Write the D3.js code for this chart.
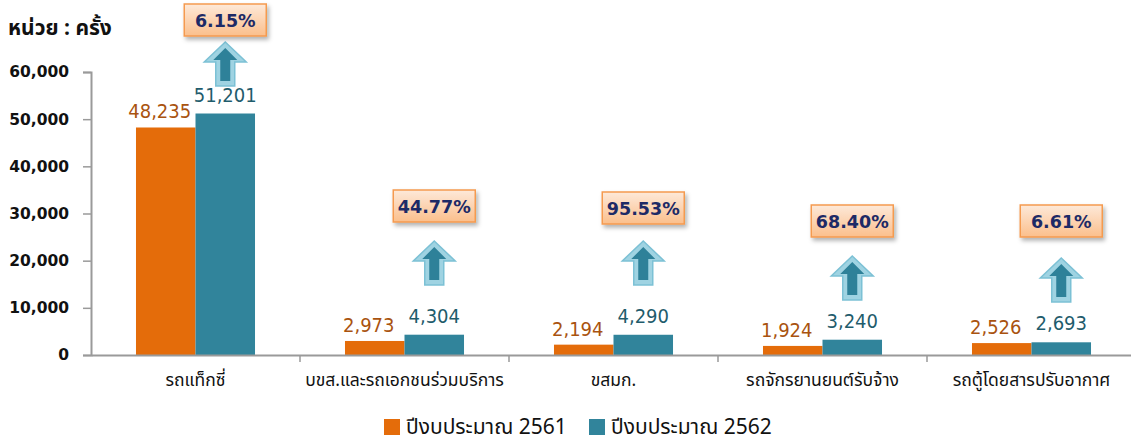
<!DOCTYPE html>
<html>
<head>
<meta charset="utf-8">
<script src="https://cdn.jsdelivr.net/npm/d3@7"></script>
<style>
  body { margin: 0; background: #fff; }
  svg { display: block; font-family: "DejaVu Sans", Tahoma, "Noto Sans Thai", sans-serif; }
</style>
</head>
<body>
<div id="vis"></div>
<script>
const FRAME_WIDTH = 1131;
const FRAME_HEIGHT = 443;
const MARGINS = {left: 91, right: 0, top: 72, bottom: 88};

// data
const categories = ["รถแท็กซี่", "บขส.และรถเอกชนร่วมบริการ", "ขสมก.", "รถจักรยานยนต์รับจ้าง", "รถตู้โดยสารปรับอากาศ"];
const series = ["ปีงบประมาณ 2561", "ปีงบประมาณ 2562"];
const values2561 = [48235, 2973, 2194, 1924, 2526];
const values2562 = [51201, 4304, 4290, 3240, 2693];
const growthLabels = ["6.15%", "44.77%", "95.53%", "68.40%", "6.61%"];
const yTicks = [0, 10000, 20000, 30000, 40000, 50000, 60000];

// where the callouts sit (pixels, top of box / top of arrow)
const calloutBoxTop = [4, 190, 192, 205, 205];
const calloutArrowTop = [42, 241, 241, 256, 258];

const COLORS = ["#e46c0a", "#31849b"];
const LABEL_COLORS = ["#a9530f", "#1f5c6c"];

const FRAME = d3.select("#vis")
  .append("svg")
    .attr("width", FRAME_WIDTH)
    .attr("height", FRAME_HEIGHT);

// gradient + shadow for the callout boxes
const defs = FRAME.append("defs");
const grad = defs.append("linearGradient")
    .attr("id", "boxGrad")
    .attr("x1", 0).attr("y1", 0).attr("x2", 0).attr("y2", 1);
grad.append("stop").attr("offset", "0%").attr("stop-color", "#fde9d9");
grad.append("stop").attr("offset", "100%").attr("stop-color", "#fbbf8c");
const shadow = defs.append("filter").attr("id", "shadow")
    .attr("x", "-20%").attr("y", "-20%").attr("width", "150%").attr("height", "160%");
shadow.append("feDropShadow")
    .attr("dx", 2).attr("dy", 3).attr("stdDeviation", 2)
    .attr("flood-color", "#000").attr("flood-opacity", 0.3);

// scales - the category band runs a bit past the right edge, as in the picture
const X_SCALE = d3.scaleBand()
    .domain(categories)
    .range([MARGINS.left, MARGINS.left + 5 * 209])
    .paddingInner(0)
    .paddingOuter(0);

const X_SUB = d3.scaleBand()
    .domain(series)
    .range([0, X_SCALE.bandwidth()])
    .paddingOuter(0.756)
    .paddingInner(0);

const Y_SCALE = d3.scaleLinear()
    .domain([0, 60000])
    .range([FRAME_HEIGHT - MARGINS.bottom, MARGINS.top]);

const rows = categories.map((c, i) => ({cat: c, vals: [values2561[i], values2562[i]], growth: growthLabels[i], i: i}));

// y axis
const yAxis = FRAME.append("g")
    .attr("transform", "translate(" + MARGINS.left + ",0)")
    .call(d3.axisLeft(Y_SCALE).tickValues(yTicks).tickSize(8).tickPadding(14)
      .tickFormat(d3.format(",")));
yAxis.select(".domain").attr("stroke", "#9a9a9a").attr("stroke-width", 2);
yAxis.selectAll(".tick line").attr("stroke", "#9a9a9a").attr("stroke-width", 1.5);
yAxis.selectAll(".tick text")
    .attr("font-size", 15.5).attr("font-weight", "bold").attr("fill", "#111")
    .attr("font-family", "'DejaVu Sans', sans-serif");

// bars
const groups = FRAME.selectAll(".cat")
  .data(rows)
  .enter()
  .append("g")
    .attr("class", "cat")
    .attr("transform", (d) => "translate(" + X_SCALE(d.cat) + ",0)");

groups.selectAll("rect")
  .data((d) => d.vals.map((v, k) => ({s: series[k], v: v, k: k})))
  .enter()
  .append("rect")
    .attr("x", (d) => X_SUB(d.s))
    .attr("y", (d) => Y_SCALE(d.v))
    .attr("width", X_SUB.bandwidth())
    .attr("height", (d) => Y_SCALE(0) - Y_SCALE(d.v))
    .attr("fill", (d) => COLORS[d.k]);

// value labels
groups.selectAll(".val")
  .data((d) => d.vals.map((v, k) => ({s: series[k], v: v, k: k})))
  .enter()
  .append("text")
    .attr("class", "val")
    .attr("x", (d) => X_SUB(d.s) + X_SUB.bandwidth() / 2 - (d.k === 0 ? 6 : 0))
    .attr("y", (d) => Y_SCALE(d.v) - (d.k === 0 ? 9 : 12))
    .attr("text-anchor", "middle")
    .attr("font-size", 20)
    .attr("font-family", "'DejaVu Sans Condensed', 'DejaVu Sans', sans-serif")
    .attr("font-stretch", "condensed")
    .attr("fill", (d) => LABEL_COLORS[d.k])
    .text((d) => d3.format(",")(d.v));

// x axis
const xAxis = FRAME.append("g")
    .attr("transform", "translate(0," + Y_SCALE(0) + ")")
    .call(d3.axisBottom(X_SCALE).tickSize(0).tickPadding(19));
xAxis.select(".domain").attr("stroke", "#9a9a9a").attr("stroke-width", 2);
xAxis.selectAll(".tick text")
    .attr("font-size", 17.5).attr("fill", "#111")
    .attr("font-family", "Tahoma, 'Noto Sans Thai', sans-serif");
// separator ticks between categories
xAxis.selectAll(".sep")
  .data(categories.slice(1))
  .enter()
  .append("line")
    .attr("x1", (d) => X_SCALE(d))
    .attr("x2", (d) => X_SCALE(d))
    .attr("y1", 0).attr("y2", 7)
    .attr("stroke", "#9a9a9a").attr("stroke-width", 1.5);

// callouts: growth box + up arrow over the 2562 bar
function arrowPath(w, headH, shaftW, h) {
  return "M0,0 L" + (w / 2) + "," + headH + " L" + (shaftW / 2) + "," + headH +
    " L" + (shaftW / 2) + "," + h + " L" + (-shaftW / 2) + "," + h +
    " L" + (-shaftW / 2) + "," + headH + " L" + (-w / 2) + "," + headH + " Z";
}

const callouts = FRAME.selectAll(".callout")
  .data(rows)
  .enter()
  .append("g")
    .attr("class", "callout")
    .attr("transform", (d) => "translate(" + (X_SCALE(d.cat) + X_SUB(series[1]) + X_SUB.bandwidth() / 2) + ",0)");

callouts.append("path")
    .attr("transform", (d) => "translate(0," + calloutArrowTop[d.i] + ")")
    .attr("d", arrowPath(42, 20, 19, 44))
    .attr("fill", "#9fd3e2")
    .attr("stroke", "#7cc1d5")
    .attr("stroke-width", 1.5);

callouts.append("path")
    .attr("transform", (d) => "translate(0," + (calloutArrowTop[d.i] + 6) + ")")
    .attr("d", arrowPath(24, 12, 10, 33))
    .attr("fill", "#2e8199");

callouts.append("rect")
    .attr("x", -41)
    .attr("y", (d) => calloutBoxTop[d.i])
    .attr("width", 82)
    .attr("height", 32)
    .attr("fill", "url(#boxGrad)")
    .attr("stroke", "#f59a4f")
    .attr("stroke-width", 1.5)
    .attr("filter", "url(#shadow)");

callouts.append("text")
    .attr("x", 0)
    .attr("y", (d) => calloutBoxTop[d.i] + 23)
    .attr("text-anchor", "middle")
    .attr("font-size", 17.5)
    .attr("font-weight", "bold")
    .attr("fill", "#1d2a66")
    .text((d) => d.growth);

// unit title
FRAME.append("text")
    .attr("x", 8)
    .attr("y", 35)
    .attr("font-size", 21)
    .attr("font-weight", "bold")
    .attr("fill", "#111")
    .attr("font-family", "Tahoma, 'Noto Sans Thai', sans-serif")
    .text("หน่วย : ครั้ง");

// legend
const legend = FRAME.append("g").attr("transform", "translate(384,419)");
const legendX = [0, 205];
series.forEach((s, k) => {
  legend.append("rect")
      .attr("x", legendX[k]).attr("y", 0)
      .attr("width", 16).attr("height", 16)
      .attr("fill", COLORS[k]);
  legend.append("text")
      .attr("x", legendX[k] + 22).attr("y", 15)
      .attr("font-size", 21)
      .attr("fill", "#111")
      .attr("font-family", "Tahoma, 'Noto Sans Thai', 'DejaVu Sans', sans-serif")
      .text(s);
});
</script>
</body>
</html>
